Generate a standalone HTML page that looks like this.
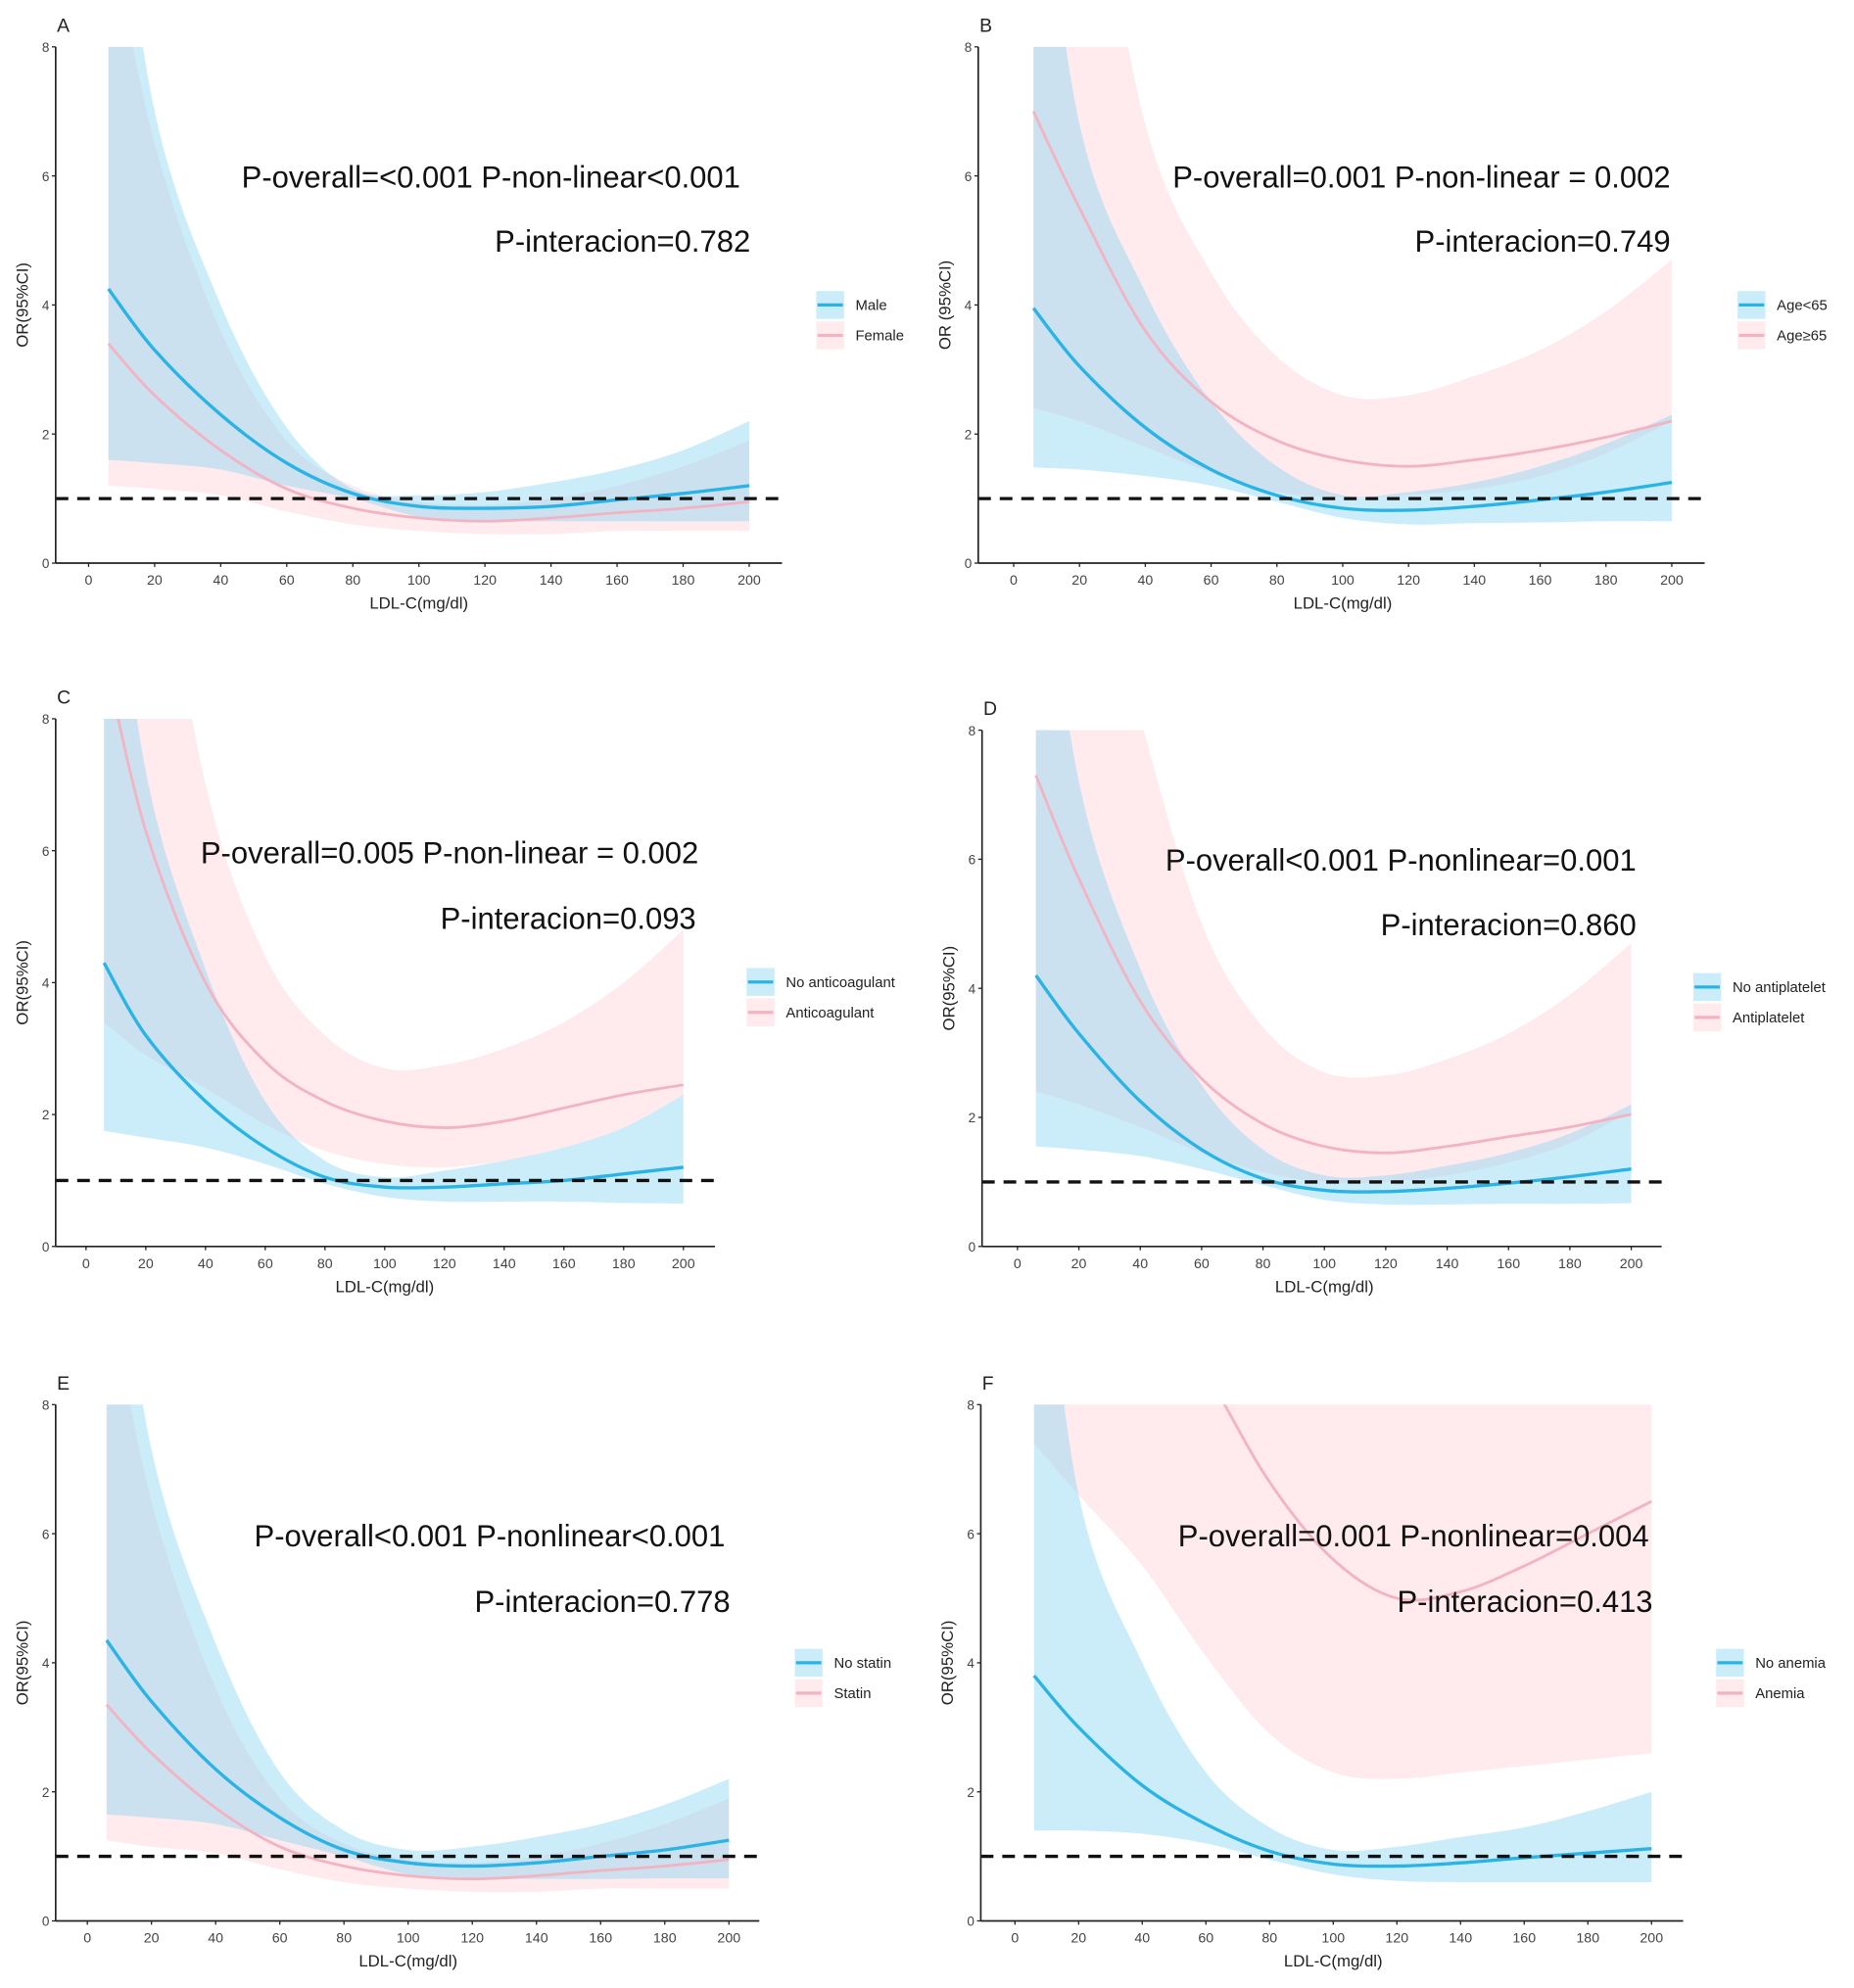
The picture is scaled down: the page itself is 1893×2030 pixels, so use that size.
<!DOCTYPE html>
<html><head><meta charset="utf-8"><style>
html,body{margin:0;padding:0;background:#fff;}
svg{display:block;font-family:"Liberation Sans",Arial,sans-serif;}
</style></head><body>
<svg id="chart" width="1893" height="2030" viewBox="0 0 1465 1571" xmlns="http://www.w3.org/2000/svg"></svg>
<script>
// shared x grid (LDL-C mg/dl)
const xs = [6,20,40,60,80,100,120,140,160,180,200];
const xTicks = [0,20,40,60,80,100,120,140,160,180,200];
const yTicks = [0,2,4,6,8];
// Panel A
const aBlueFit = [4.25,3.3,2.3,1.55,1.08,0.88,0.85,0.88,0.98,1.08,1.2];
const aBlueUp  = [12,7.0,4.0,2.1,1.15,1.05,1.1,1.25,1.45,1.75,2.2];
const aBlueLo  = [1.6,1.55,1.45,1.2,1.0,0.72,0.65,0.65,0.65,0.65,0.65];
const aPinkFit = [3.4,2.6,1.75,1.15,0.85,0.7,0.65,0.7,0.78,0.85,0.95];
const aPinkUp  = [10,6.5,3.6,1.9,1.2,0.95,0.9,1.0,1.2,1.5,1.9];
const aPinkLo  = [1.2,1.15,1.05,0.8,0.6,0.5,0.45,0.45,0.5,0.5,0.5];
// Panel B
const bBlueFit = [3.95,3.05,2.1,1.45,1.05,0.85,0.82,0.88,0.98,1.1,1.25];
const bBlueUp  = [12,6.8,4.2,2.5,1.5,1.05,1.1,1.25,1.5,1.85,2.3];
const bBlueLo  = [1.48,1.45,1.35,1.2,0.95,0.7,0.6,0.62,0.63,0.65,0.65];
const bPinkFit = [7.0,5.5,3.6,2.5,1.9,1.6,1.5,1.6,1.75,1.95,2.2];
const bPinkUp  = [14,12,6.8,4.5,3.2,2.6,2.6,2.9,3.3,3.9,4.7];
const bPinkLo  = [2.4,2.2,1.8,1.4,1.1,1.02,1.05,1.15,1.35,1.7,2.2];
// Panel C
const cBlueFit = [4.3,3.2,2.2,1.5,1.05,0.9,0.9,0.95,1.0,1.1,1.2];
const cBlueUp  = [12,7.2,4.2,2.2,1.3,1.05,1.15,1.3,1.5,1.8,2.3];
const cBlueLo  = [1.75,1.65,1.5,1.25,0.95,0.75,0.68,0.68,0.68,0.66,0.65];
const cPinkFit = [9.0,6.3,4.0,2.8,2.2,1.9,1.8,1.9,2.1,2.3,2.45];
const cPinkUp  = [14,12,7.0,4.4,3.2,2.7,2.75,3.0,3.4,4.0,4.8];
const cPinkLo  = [3.4,2.9,2.4,1.85,1.45,1.25,1.2,1.3,1.5,1.8,2.3];
// Panel D
const dBlueFit = [4.2,3.3,2.25,1.5,1.05,0.87,0.85,0.9,0.98,1.08,1.2];
const dBlueUp  = [12,7.2,4.3,2.5,1.5,1.1,1.1,1.25,1.45,1.75,2.2];
const dBlueLo  = [1.55,1.5,1.4,1.2,0.95,0.72,0.65,0.65,0.66,0.66,0.67];
const dPinkFit = [7.3,5.7,3.8,2.6,1.9,1.55,1.45,1.55,1.7,1.85,2.05];
const dPinkUp  = [14,12,8.2,5.0,3.4,2.7,2.65,2.9,3.3,3.9,4.7];
const dPinkLo  = [2.4,2.2,1.85,1.45,1.15,1.0,1.0,1.1,1.3,1.6,2.1];
// Panel E
const eBlueFit = [4.35,3.4,2.35,1.6,1.1,0.9,0.85,0.9,1.0,1.1,1.25];
const eBlueUp  = [12,7.3,4.3,2.3,1.4,1.1,1.15,1.3,1.5,1.8,2.2];
const eBlueLo  = [1.65,1.6,1.5,1.25,1.0,0.72,0.65,0.65,0.65,0.66,0.66];
const ePinkFit = [3.35,2.6,1.75,1.15,0.85,0.7,0.65,0.7,0.78,0.85,0.95];
const ePinkUp  = [10,6.5,3.6,1.9,1.2,0.95,0.9,1.0,1.2,1.5,1.9];
const ePinkLo  = [1.25,1.15,1.05,0.8,0.6,0.5,0.45,0.45,0.5,0.5,0.5];
// Panel F
const fBlueFit = [3.8,3.0,2.1,1.5,1.08,0.88,0.85,0.9,0.98,1.05,1.12];
const fBlueUp  = [12,6.6,4.0,2.3,1.45,1.1,1.15,1.3,1.45,1.7,2.0];
const fBlueLo  = [1.4,1.4,1.35,1.2,0.95,0.72,0.62,0.6,0.6,0.6,0.6];
const fPinkFit = [14,12,10,8.5,6.8,5.6,5.0,5.1,5.5,6.0,6.5];
const fPinkUp  = [14,14,14,14,14,14,14,14,14,14,14];
const fPinkLo  = [7.4,6.6,5.5,4.1,2.9,2.3,2.2,2.3,2.4,2.5,2.6];

const panels = [
 {id:'a',letter:'A',ax:44,right:618,x0:70,x200:592,y8:37,y0:445,ytitle:'OR(95%CI)',
  t1:'P-overall=<0.001 P-non-linear<0.001',t1x:585,t1y:148,t2:'P-interacion=0.782',t2x:593,t2y:199,
  lx:645,ly:241,labels:['Male','Female'],blue:[aBlueFit,aBlueUp,aBlueLo],pink:[aPinkFit,aPinkUp,aPinkLo]},
 {id:'b',letter:'B',ax:773,right:1347,x0:801,x200:1321,y8:37,y0:445,ytitle:'OR (95%CI)',
  t1:'P-overall=0.001  P-non-linear  = 0.002',t1x:1320,t1y:148,t2:'P-interacion=0.749',t2x:1320,t2y:199,
  lx:1373,ly:241,labels:['Age<65','Age≥65'],blue:[bBlueFit,bBlueUp,bBlueLo],pink:[bPinkFit,bPinkUp,bPinkLo]},
 {id:'c',letter:'C',ax:44,right:565,x0:68,x200:540,y8:568,y0:985,ytitle:'OR(95%CI)',
  t1:'P-overall=0.005 P-non-linear = 0.002',t1x:552,t1y:682,t2:'P-interacion=0.093',t2x:550,t2y:734,
  lx:590,ly:776,labels:['No anticoagulant','Anticoagulant'],blue:[cBlueFit,cBlueUp,cBlueLo],pink:[cPinkFit,cPinkUp,cPinkLo]},
 {id:'d',letter:'D',ax:776,right:1313,x0:804,x200:1289,y8:577,y0:985,ytitle:'OR(95%CI)',
  t1:'P-overall<0.001 P-nonlinear=0.001',t1x:1293,t1y:688,t2:'P-interacion=0.860',t2x:1293,t2y:739,
  lx:1338,ly:780,labels:['No antiplatelet','Antiplatelet'],blue:[dBlueFit,dBlueUp,dBlueLo],pink:[dPinkFit,dPinkUp,dPinkLo]},
 {id:'e',letter:'E',ax:44,right:600,x0:69,x200:576,y8:1110,y0:1518,ytitle:'OR(95%CI)',
  t1:'P-overall<0.001 P-nonlinear<0.001',t1x:573,t1y:1222,t2:'P-interacion=0.778',t2x:577,t2y:1274,
  lx:628,ly:1314,labels:['No statin','Statin'],blue:[eBlueFit,eBlueUp,eBlueLo],pink:[ePinkFit,ePinkUp,ePinkLo]},
 {id:'f',letter:'F',ax:775,right:1330,x0:802,x200:1305,y8:1110,y0:1518,ytitle:'OR(95%CI)',
  t1:'P-overall=0.001 P-nonlinear=0.004',t1x:1303,t1y:1222,t2:'P-interacion=0.413',t2x:1306,t2y:1274,
  lx:1356,ly:1314,labels:['No anemia','Anemia'],blue:[fBlueFit,fBlueUp,fBlueLo],pink:[fPinkFit,fPinkUp,fPinkLo]}
];

const NS='http://www.w3.org/2000/svg';
const svg=document.getElementById('chart');
function mk(tag,attrs,parent){const e=document.createElementNS(NS,tag);for(const k in attrs)e.setAttribute(k,attrs[k]);(parent||svg).appendChild(e);return e;}
function spline(pts){let d='M'+pts[0][0]+','+pts[0][1];
 for(let i=0;i<pts.length-1;i++){const p0=pts[Math.max(0,i-1)],p1=pts[i],p2=pts[i+1],p3=pts[Math.min(pts.length-1,i+2)];
  const c1=[p1[0]+(p2[0]-p0[0])/6,p1[1]+(p2[1]-p0[1])/6],c2=[p2[0]-(p3[0]-p1[0])/6,p2[1]-(p3[1]-p1[1])/6];
  d+=' C'+c1[0]+','+c1[1]+' '+c2[0]+','+c2[1]+' '+p2[0]+','+p2[1];}return d;}
const BLUE_FILL='rgba(130,212,244,0.42)',PINK_FILL='rgba(255,196,208,0.36)',BLUE_LINE='#2ab4e6',PINK_LINE='#f2b4c2';

panels.forEach(p=>{
 const g=mk('g',{});
 
 
 const X=v=>p.x0+(p.x200-p.x0)*v/200, Y=v=>p.y0-(p.y0-p.y8)*v/8;
 const cp=mk('clipPath',{id:'clip'+p.id},g);
 mk('rect',{x:p.ax,y:p.y8,width:p.right-p.ax,height:p.y0-p.y8},cp);
 const plot=mk('g',{'clip-path':'url(#clip'+p.id+')'},g);
 [['pink',p.pink,PINK_FILL],['blue',p.blue,BLUE_FILL]].forEach(([nm,s,fc])=>{
  const up=xs.map((x,i)=>[X(x),Y(s[1][i])]),lo=xs.map((x,i)=>[X(x),Y(s[2][i])]).reverse();
  const band=mk('path',{d:spline(up)+' L'+spline(lo).slice(1)+' Z',fill:fc,stroke:'none'},plot);
  
  
 });
 [['pink',p.pink,PINK_LINE],['blue',p.blue,BLUE_LINE]].forEach(([nm,s,lc])=>{
  const ln=mk('path',{d:spline(xs.map((x,i)=>[X(x),Y(s[0][i])])),fill:'none',stroke:lc,'stroke-width':nm==='blue'?2.6:2.2},plot);
  
  
 });
 const ref=mk('line',{x1:p.ax,x2:p.right,y1:Y(1),y2:Y(1),stroke:'#111','stroke-width':2.6,'stroke-dasharray':'10,7'},g);
 
 
 const axg=mk('g',{},g);
 
 
 mk('line',{x1:p.ax,x2:p.ax,y1:p.y8,y2:p.y0,stroke:'#222','stroke-width':1.3},axg);
 mk('line',{x1:p.ax,x2:p.right,y1:p.y0,y2:p.y0,stroke:'#222','stroke-width':1.3},axg);
 yTicks.forEach(t=>{mk('line',{x1:p.ax-3,x2:p.ax,y1:Y(t),y2:Y(t),stroke:'#222'},axg);
  const tx=mk('text',{x:p.ax-5,y:Y(t)+4,'text-anchor':'end','font-size':10.5,fill:'#444'},axg);tx.textContent=t;});
 xTicks.forEach(t=>{mk('line',{x1:X(t),x2:X(t),y1:p.y0,y2:p.y0+3,stroke:'#222'},axg);
  const tx=mk('text',{x:X(t),y:p.y0+17,'text-anchor':'middle','font-size':11,fill:'#444'},axg);tx.textContent=t;});
 const xt=mk('text',{x:(p.x0+p.x200)/2,y:p.y0+36,'text-anchor':'middle','font-size':13,fill:'#222'},g);
 xt.textContent='LDL-C(mg/dl)';
 
 
 const yc=(p.y8+p.y0)/2;
 const yt=mk('text',{x:p.ax-22,y:yc,transform:'rotate(-90 '+(p.ax-22)+' '+yc+')','text-anchor':'middle','font-size':13,fill:'#222'},g);
 yt.textContent=p.ytitle;
 
 
 const lt=mk('text',{x:p.ax+1,y:p.y8-12,'font-size':15,fill:'#222'},g);
 lt.textContent=p.letter;
 
 
 const a1=mk('text',{x:p.t1x,y:p.t1y,'text-anchor':'end','font-size':24,fill:'#111'},g);
 a1.textContent=p.t1;
 
 
 const a2=mk('text',{x:p.t2x,y:p.t2y,'text-anchor':'end','font-size':24,fill:'#111'},g);
 a2.textContent=p.t2;
 
 
 const lg=mk('g',{},g);
 
 
 [[BLUE_FILL,BLUE_LINE],[PINK_FILL,PINK_LINE]].forEach((c,i)=>{
  const cy=p.ly+i*24;
  const ent=mk('g',{},lg);
  
  
  mk('rect',{x:p.lx,y:cy-11,width:22,height:22,fill:c[0]},ent);
  mk('line',{x1:p.lx+1,x2:p.lx+21,y1:cy,y2:cy,stroke:c[1],'stroke-width':2.5},ent);
  const tx=mk('text',{x:p.lx+31,y:cy+4,'font-size':11.5,fill:'#222'},ent);tx.textContent=p.labels[i];
 });
});
</script>
</body></html>
